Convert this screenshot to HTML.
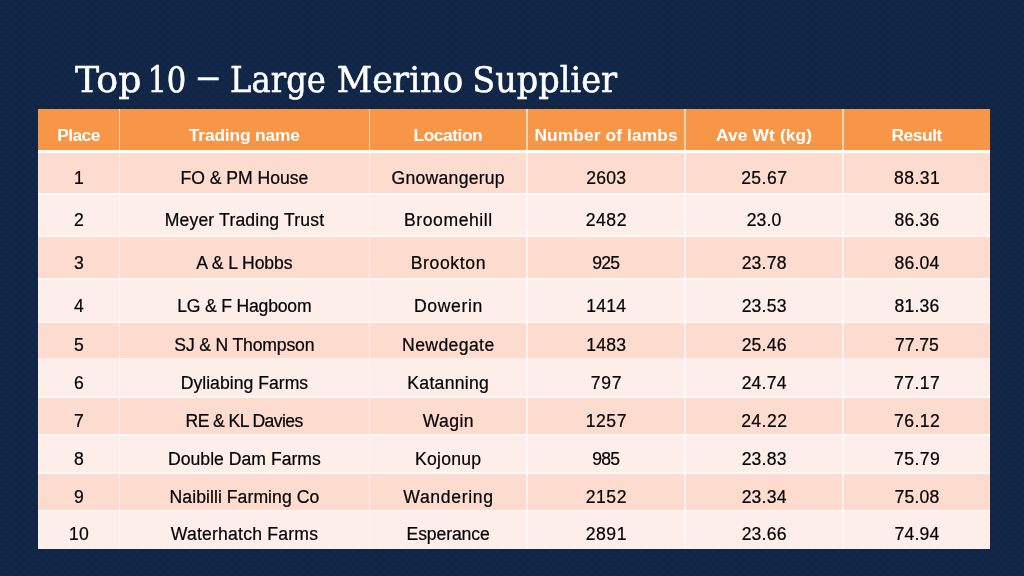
<!DOCTYPE html>
<html lang="en"><head><meta charset="utf-8"><title>Top 10 – Large Merino Supplier</title>
<style>
html,body{margin:0;padding:0}
body{width:1024px;height:576px;overflow:hidden;position:relative;background-color:#112646;
background-image:radial-gradient(circle at 50% 50%,rgba(70,95,135,.07) 0,rgba(70,95,135,.07) 1px,rgba(70,95,135,0) 2px),radial-gradient(circle at 50% 50%,rgba(70,95,135,.07) 0,rgba(70,95,135,.07) 1px,rgba(70,95,135,0) 2px);
background-size:9px 8px,9px 8px;background-position:2px 0,6.5px 4px;
font-family:"Liberation Sans",sans-serif}
h1{position:absolute;margin:0;left:75px;top:58.07px;font:400 36.2px/44px "DejaVu Serif","Liberation Serif",serif;color:#fff;white-space:nowrap;transform-origin:0 0;transform:scaleX(0.928);-webkit-text-stroke:.55px #fff}
.w{display:inline-block}
.dash{display:inline-block;transform:translate(-.6px,-3.9px) scale(1.45,1)}
.tbl{position:absolute;left:37.60px;top:108.50px;width:952.80px;height:440.50px;background:#fff}
.body{position:absolute;left:37.60px;top:153px;width:952.80px;height:395.50px;background:#FEEEE9}
.r{position:absolute;left:37.60px;width:952.80px}
.hd{background:#F79646}.dk{background:#FDDCCF}
.hl{position:absolute;left:37.60px;width:952.80px;background:#fff}
.vl{position:absolute;top:108.50px;height:440.50px;width:1.3px;background:rgba(255,255,255,.6)}
.c{position:absolute;text-align:center;white-space:nowrap;color:#000;font-size:17.6px;line-height:20px;height:20px;letter-spacing:0;-webkit-text-stroke:.2px #000}
.c.h{color:#fff;font-weight:700;font-size:17.4px;-webkit-text-stroke:0}
</style></head><body>
<h1><span class="w" style="transform-origin:0 50%;transform:scaleX(1.08)">Top</span> <span class="w" style="transform-origin:0 50%;transform:scaleX(.91)">10</span> <span class="dash">–</span> <span class="w" style="transform:scaleX(.96)">Large</span> <span class="w" style="transform:scaleX(1.03)">Merino</span> <span class="w">Supplier</span></h1>
<div class="tbl"></div>
<div class="body"></div>

<div class="r hd" style="top:109.10px;height:40.90px"></div>
<div class="r dk" style="top:153.00px;height:40.30px"></div>
<div class="r dk" style="top:237.40px;height:41.00px"></div>
<div class="r dk" style="top:322.90px;height:35.50px"></div>
<div class="r dk" style="top:398.10px;height:35.50px"></div>
<div class="r dk" style="top:473.60px;height:36.00px"></div>
<div class="hl" style="top:193.30px;height:2.20px;opacity:0.60"></div>
<div class="hl" style="top:235.20px;height:2.20px;opacity:0.60"></div>
<div class="hl" style="top:278.40px;height:1.60px;opacity:0.55"></div>
<div class="hl" style="top:320.80px;height:2.10px;opacity:0.50"></div>
<div class="hl" style="top:395.70px;height:2.40px;opacity:0.65"></div>
<div class="hl" style="top:433.60px;height:2.40px;opacity:0.60"></div>
<div class="hl" style="top:471.70px;height:1.90px;opacity:0.55"></div>
<div class="hl" style="top:509.60px;height:1.80px;opacity:0.55"></div>
<div class="vl" style="left:118.85px"></div>
<div class="vl" style="left:368.50px"></div>
<div class="vl" style="left:526.25px"></div>
<div class="vl" style="left:684.35px"></div>
<div class="vl" style="left:842.25px"></div>
<div class="c h" style="left:37.80px;top:125.25px;width:81.50px;letter-spacing:-0.60px">Place</div>
<div class="c h" style="left:119.52px;top:125.25px;width:249.65px;letter-spacing:-0.17px">Trading name</div>
<div class="c h" style="left:369.02px;top:125.25px;width:157.75px;letter-spacing:-0.46px">Location</div>
<div class="c h" style="left:527.04px;top:125.25px;width:158.10px;letter-spacing:0.08px">Number of lambs</div>
<div class="c h" style="left:685.16px;top:125.25px;width:157.90px;letter-spacing:0.12px">Ave Wt (kg)</div>
<div class="c h" style="left:842.78px;top:125.25px;width:147.90px;letter-spacing:-0.44px">Result</div>
<div class="c" style="left:38.10px;top:167.68px;width:81.50px">1</div>
<div class="c" style="left:119.58px;top:167.68px;width:249.65px;letter-spacing:-0.03px">FO &amp; PM House</div>
<div class="c" style="left:369.38px;top:167.68px;width:157.75px;letter-spacing:0.25px">Gnowangerup</div>
<div class="c" style="left:527.11px;top:167.68px;width:158.10px;letter-spacing:0.22px">2603</div>
<div class="c" style="left:685.32px;top:167.68px;width:157.90px;letter-spacing:0.44px">25.67</div>
<div class="c" style="left:843.22px;top:167.68px;width:147.90px;letter-spacing:0.44px">88.31</div>
<div class="c" style="left:38.10px;top:210.38px;width:81.50px">2</div>
<div class="c" style="left:119.68px;top:210.38px;width:249.65px;letter-spacing:0.17px">Meyer Trading Trust</div>
<div class="c" style="left:369.54px;top:210.38px;width:157.75px;letter-spacing:0.57px">Broomehill</div>
<div class="c" style="left:527.27px;top:210.38px;width:158.10px;letter-spacing:0.55px">2482</div>
<div class="c" style="left:685.19px;top:210.38px;width:157.90px;letter-spacing:0.17px">23.0</div>
<div class="c" style="left:843.10px;top:210.38px;width:147.90px;letter-spacing:0.19px">86.36</div>
<div class="c" style="left:38.10px;top:253.18px;width:81.50px">3</div>
<div class="c" style="left:119.55px;top:253.18px;width:249.65px;letter-spacing:-0.09px">A &amp; L Hobbs</div>
<div class="c" style="left:369.56px;top:253.18px;width:157.75px;letter-spacing:0.61px">Brookton</div>
<div class="c" style="left:526.61px;top:253.18px;width:158.10px;letter-spacing:-0.79px">925</div>
<div class="c" style="left:685.20px;top:253.18px;width:157.90px;letter-spacing:0.19px">23.78</div>
<div class="c" style="left:843.10px;top:253.18px;width:147.90px;letter-spacing:0.19px">86.04</div>
<div class="c" style="left:38.10px;top:295.88px;width:81.50px">4</div>
<div class="c" style="left:119.50px;top:295.88px;width:249.65px;letter-spacing:-0.20px">LG &amp; F Hagboom</div>
<div class="c" style="left:369.58px;top:295.88px;width:157.75px;letter-spacing:0.66px">Dowerin</div>
<div class="c" style="left:527.11px;top:295.88px;width:158.10px;letter-spacing:0.22px">1414</div>
<div class="c" style="left:685.20px;top:295.88px;width:157.90px;letter-spacing:0.19px">23.53</div>
<div class="c" style="left:843.10px;top:295.88px;width:147.90px;letter-spacing:0.19px">81.36</div>
<div class="c" style="left:38.10px;top:335.43px;width:81.50px">5</div>
<div class="c" style="left:119.52px;top:335.43px;width:249.65px;letter-spacing:-0.16px">SJ &amp; N Thompson</div>
<div class="c" style="left:369.44px;top:335.43px;width:157.75px;letter-spacing:0.39px">Newdegate</div>
<div class="c" style="left:527.11px;top:335.43px;width:158.10px;letter-spacing:0.22px">1483</div>
<div class="c" style="left:685.20px;top:335.43px;width:157.90px;letter-spacing:0.19px">25.46</div>
<div class="c" style="left:842.97px;top:335.43px;width:147.90px;letter-spacing:-0.06px">77.75</div>
<div class="c" style="left:38.10px;top:373.38px;width:81.50px">6</div>
<div class="c" style="left:119.61px;top:373.38px;width:249.65px;letter-spacing:0.02px">Dyliabing Farms</div>
<div class="c" style="left:369.39px;top:373.38px;width:157.75px;letter-spacing:0.29px">Katanning</div>
<div class="c" style="left:527.35px;top:373.38px;width:158.10px;letter-spacing:0.70px">797</div>
<div class="c" style="left:685.20px;top:373.38px;width:157.90px;letter-spacing:0.19px">24.74</div>
<div class="c" style="left:843.22px;top:373.38px;width:147.90px;letter-spacing:0.44px">77.17</div>
<div class="c" style="left:38.10px;top:411.28px;width:81.50px">7</div>
<div class="c" style="left:119.30px;top:411.28px;width:249.65px;letter-spacing:-0.60px">RE &amp; KL Davies</div>
<div class="c" style="left:369.47px;top:411.28px;width:157.75px;letter-spacing:0.44px">Wagin</div>
<div class="c" style="left:527.27px;top:411.28px;width:158.10px;letter-spacing:0.55px">1257</div>
<div class="c" style="left:685.32px;top:411.28px;width:157.90px;letter-spacing:0.44px">24.22</div>
<div class="c" style="left:843.22px;top:411.28px;width:147.90px;letter-spacing:0.44px">76.12</div>
<div class="c" style="left:38.10px;top:449.08px;width:81.50px">8</div>
<div class="c" style="left:119.61px;top:449.08px;width:249.65px;letter-spacing:0.02px">Double Dam Farms</div>
<div class="c" style="left:369.38px;top:449.08px;width:157.75px;letter-spacing:0.25px">Kojonup</div>
<div class="c" style="left:526.61px;top:449.08px;width:158.10px;letter-spacing:-0.79px">985</div>
<div class="c" style="left:685.20px;top:449.08px;width:157.90px;letter-spacing:0.19px">23.83</div>
<div class="c" style="left:843.22px;top:449.08px;width:147.90px;letter-spacing:0.44px">75.79</div>
<div class="c" style="left:38.10px;top:487.18px;width:81.50px">9</div>
<div class="c" style="left:119.63px;top:487.18px;width:249.65px;letter-spacing:0.06px">Naibilli Farming Co</div>
<div class="c" style="left:369.57px;top:487.18px;width:157.75px;letter-spacing:0.65px">Wandering</div>
<div class="c" style="left:527.27px;top:487.18px;width:158.10px;letter-spacing:0.55px">2152</div>
<div class="c" style="left:685.20px;top:487.18px;width:157.90px;letter-spacing:0.19px">23.34</div>
<div class="c" style="left:843.10px;top:487.18px;width:147.90px;letter-spacing:0.19px">75.08</div>
<div class="c" style="left:38.18px;top:524.48px;width:81.50px;letter-spacing:0.16px">10</div>
<div class="c" style="left:119.70px;top:524.48px;width:249.65px;letter-spacing:0.21px">Waterhatch Farms</div>
<div class="c" style="left:369.19px;top:524.48px;width:157.75px;letter-spacing:-0.12px">Esperance</div>
<div class="c" style="left:527.27px;top:524.48px;width:158.10px;letter-spacing:0.55px">2891</div>
<div class="c" style="left:685.20px;top:524.48px;width:157.90px;letter-spacing:0.19px">23.66</div>
<div class="c" style="left:843.10px;top:524.48px;width:147.90px;letter-spacing:0.19px">74.94</div>
</body></html>
